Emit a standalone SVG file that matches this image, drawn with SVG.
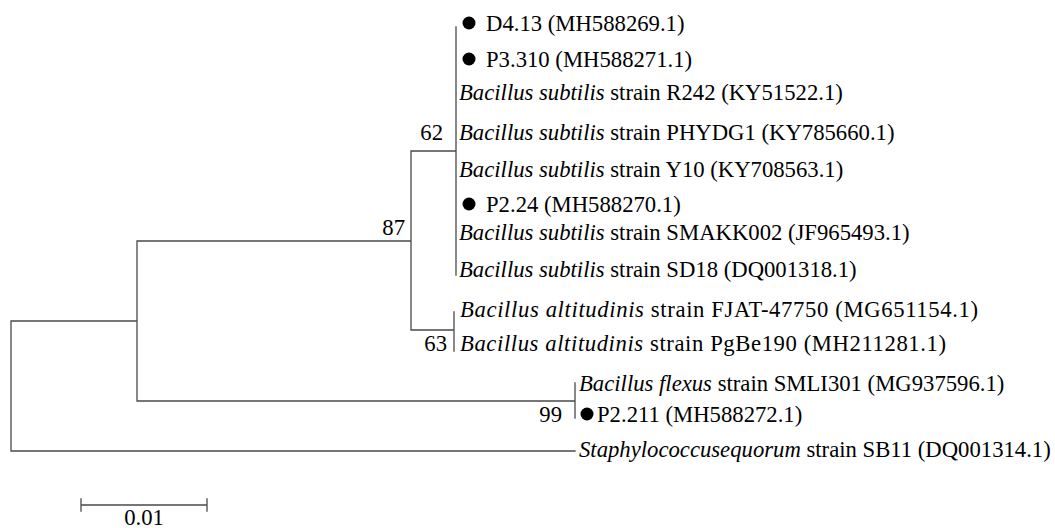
<svg xmlns="http://www.w3.org/2000/svg" width="1055" height="528" viewBox="0 0 1055 528">
<style>
.br{stroke:#4a4a4a;stroke-width:1.3;fill:none;stroke-linecap:square}
.i{font-style:italic}
.bs{text-anchor:end}
.dot{fill:#000}
</style>
<rect width="1055" height="528" fill="#fff"/>
<g font-family="Liberation Serif, Times New Roman, Times, Nimbus Roman, FreeSerif, DejaVu Serif, serif" font-size="22.7" fill="#000">
<g id="connectors">
<path class="br" d="M11,321V451M11,321H137M137,241V401M137,241H411M411,151V330M411,151H456M456,27V275M411,330H454M454,312V351M137,401H575M575,383V418M11,451H575"/>
</g>
<g id="bootstrap">
<text class="bs" x="443" y="140">62</text>
<text class="bs" x="405" y="235">87</text>
<text class="bs" x="447" y="351">63</text>
<text class="bs" x="562" y="422">99</text>
</g>
<g id="tip-D4.13"><circle class="dot" cx="469" cy="23" r="6.5"/><text x="486" y="31">D4.13 (MH588269.1)</text></g>
<g id="tip-P3.310"><circle class="dot" cx="469" cy="59" r="6.5"/><text x="486" y="67">P3.310 (MH588271.1)</text></g>
<g id="tip-R242"><text x="459" y="100"><tspan class="i">Bacillus subtilis</tspan> strain R242 (KY51522.1)</text></g>
<g id="tip-PHYDG1"><text x="459" y="140"><tspan class="i">Bacillus subtilis</tspan> strain PHYDG1 (KY785660.1)</text></g>
<g id="tip-Y10"><text x="459" y="177"><tspan class="i">Bacillus subtilis</tspan> strain Y10 (KY708563.1)</text></g>
<g id="tip-P2.24"><circle class="dot" cx="469" cy="204" r="6.5"/><text x="486" y="212">P2.24 (MH588270.1)</text></g>
<g id="tip-SMAKK002"><text x="459" y="240"><tspan class="i">Bacillus subtilis</tspan> strain SMAKK002 (JF965493.1)</text></g>
<g id="tip-SD18"><text x="459" y="277"><tspan class="i">Bacillus subtilis</tspan> strain SD18 (DQ001318.1)</text></g>
<g id="tip-FJAT"><text x="460" y="317" textLength="518"><tspan class="i">Bacillus altitudinis</tspan> strain FJAT-47750 (MG651154.1)</text></g>
<g id="tip-PgBe190"><text x="460" y="351" textLength="486"><tspan class="i">Bacillus altitudinis</tspan> strain PgBe190 (MH211281.1)</text></g>
<g id="tip-SMLI301"><text x="579" y="391"><tspan class="i">Bacillus flexus</tspan> strain SMLI301 (MG937596.1)</text></g>
<g id="tip-P2.211"><circle class="dot" cx="587" cy="414" r="6.5"/><text x="597" y="422">P2.211 (MH588272.1)</text></g>
<g id="tip-SB11"><text x="579" y="457"><tspan class="i">Staphylococcusequorum</tspan> strain SB11 (DQ001314.1)</text></g>
<g id="scale">
<path class="br" d="M81,505H207M81,499V511M207,499V511"/>
<text x="144" y="525" text-anchor="middle">0.01</text>
</g>
</g>
</svg>
